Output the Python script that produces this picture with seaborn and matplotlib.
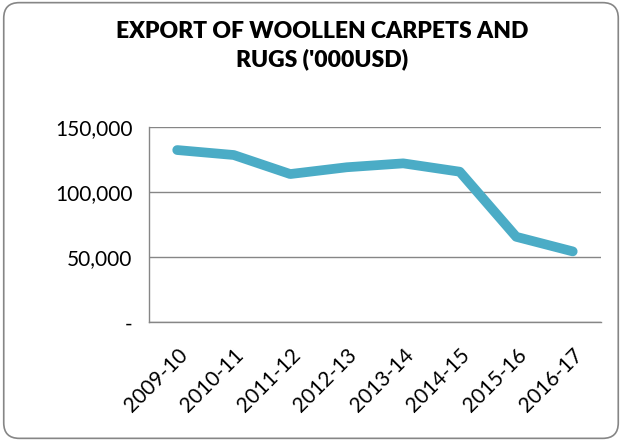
import numpy as np
import pandas as pd
import matplotlib
matplotlib.use("Agg")
import matplotlib.pyplot as plt
from matplotlib.patches import FancyBboxPatch
from matplotlib.ticker import FixedLocator, FuncFormatter
import seaborn as sns

years = ["2009-10", "2010-11", "2011-12", "2012-13",
         "2013-14", "2014-15", "2015-16", "2016-17"]
exports = [132100, 128300, 113700, 118900, 121900, 115500, 65600, 54400]

sns.set_style("white")
plt.rcParams["font.family"] = ["Lato", "DejaVu Sans"]
plt.rcParams["text.color"] = "black"
plt.rcParams["xtick.color"] = "black"
plt.rcParams["ytick.color"] = "black"

df = pd.DataFrame({"year": years, "export": exports})
df["pos"] = np.arange(len(years))

fig = plt.figure(figsize=(6.22, 4.41), dpi=100)
ax = fig.add_axes([0.2395, 0.269, 0.9662 - 0.2395, 0.7127 - 0.269])

sns.lineplot(data=df, x="pos", y="export", color="#4BACC6", linewidth=7,
             solid_capstyle="round", solid_joinstyle="round", ax=ax)

ax.set_xlim(-0.5, len(years) - 0.5)
ax.set_ylim(0, 150000)
ax.set_yticks([0, 50000, 100000, 150000])
ax.yaxis.set_major_formatter(FuncFormatter(lambda v, p: "-" if v == 0 else f"{v:,.0f}"))
ax.grid(axis="y", color="#868686", linewidth=1)
ax.set_axisbelow(True)

ax.set_xticks(df["pos"])
ax.set_xticklabels(years, rotation=45, ha="right", va="top", rotation_mode="anchor", fontsize=15)
ax.tick_params(axis="x", which="major", length=0, pad=16, labelcolor="black")
ax.xaxis.set_minor_locator(FixedLocator(np.arange(-0.5, len(years), 1.0)))
ax.tick_params(axis="x", which="minor", length=6, color="#868686", width=1, direction="out")
ax.tick_params(axis="y", length=6, color="#868686", width=1, direction="out",
               labelsize=15, pad=6, labelcolor="black")
ax.set_xlabel("")
ax.set_ylabel("")

for s in ["top", "right"]:
    ax.spines[s].set_visible(False)
for s in ["left", "bottom"]:
    ax.spines[s].set_color("#868686")
    ax.spines[s].set_linewidth(1)

fig.text(0.518, 0.896, "EXPORT OF WOOLLEN CARPETS AND\nRUGS ('000USD)", ha="center", va="center",
         fontsize=16.5, fontweight="heavy", linespacing=1.35)

border = FancyBboxPatch((0.006, 0.006), 0.988, 0.988, boxstyle="round,pad=0,rounding_size=0.025",
                        transform=fig.transFigure, facecolor="none", edgecolor="#868686",
                        linewidth=1.2, mutation_aspect=622 / 441)
fig.patches.append(border)

fig.savefig("out.png", dpi=100)
